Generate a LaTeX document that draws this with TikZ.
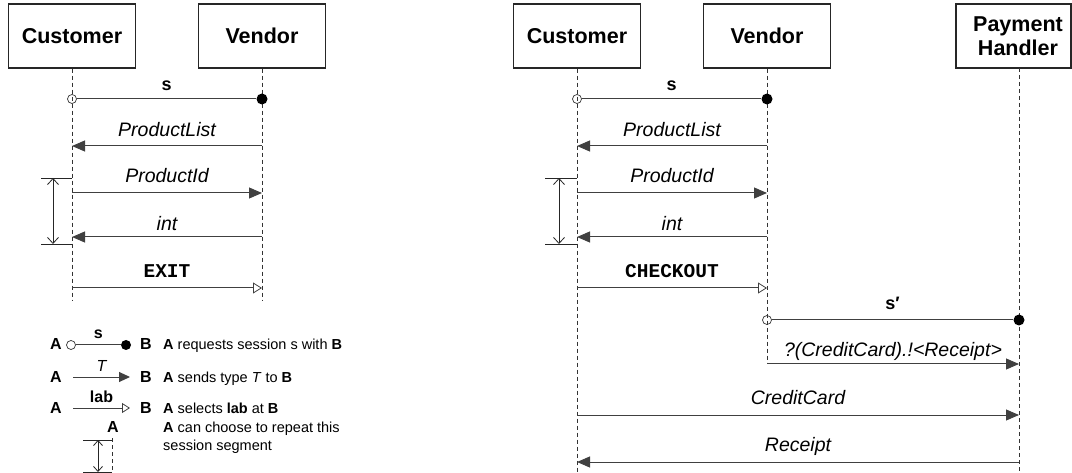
\documentclass[tikz,border=0pt]{standalone}
\usepackage{fontspec}
\setmainfont{Liberation Sans}
\setmonofont{Liberation Mono}
\usetikzlibrary{arrows.meta}
\tikzset{
 actor/.style={draw=black!85, line width=1.2pt, minimum width=127pt, minimum height=64pt, font=\fontsize{21.5}{24}\selectfont\bfseries, align=center, inner sep=0pt},
 life/.style={draw=black!80, line width=0.7pt, dash pattern=on 4pt off 3pt},
 msg/.style={draw=black!75, line width=1pt},
 send/.style={msg, -{Triangle[length=13pt,width=11pt]}},
 sel/.style={msg, -{Triangle[open,length=9pt,width=11pt,line width=0.8pt]}},
 lsend/.style={msg, -{Triangle[length=11pt,width=10pt]}},
 lsel/.style={msg, -{Triangle[open,length=8pt,width=10pt,line width=0.8pt]}},
 odot/.style={circle, draw=black!80, line width=0.7pt, minimum size=9pt, inner sep=0pt},
 fdot/.style={circle, fill=black, minimum size=11pt, inner sep=0pt},
 lodot/.style={circle, draw=black!80, line width=0.7pt, minimum size=9pt, inner sep=0pt},
 lfdot/.style={circle, fill=black, minimum size=10pt, inner sep=0pt},
 lbl/.style={anchor=base, inner sep=0pt, font=\fontsize{19.5}{22}\selectfont\itshape},
 sesslbl/.style={anchor=base, inner sep=0pt, font=\fontsize{18}{22}\selectfont\bfseries},
 cmdlbl/.style={anchor=base, inner sep=0pt, font=\fontsize{19.5}{22}\selectfont\ttfamily\bfseries},
 tick/.style={draw=black!85, line width=0.8pt},
 rep/.style={draw=black!85, line width=0.8pt, {Straight Barb[length=6pt,width=11pt]}-{Straight Barb[length=6pt,width=11pt]}},
 lrep/.style={draw=black!85, line width=0.8pt, {Straight Barb[length=5pt,width=9pt]}-{Straight Barb[length=5pt,width=9pt]}},
 leg/.style={anchor=base west, inner sep=0pt, font=\fontsize{14.5}{17}\selectfont},
 legb/.style={anchor=base, inner sep=0pt, font=\fontsize{16}{19}\selectfont\bfseries},
 legi/.style={anchor=base, inner sep=0pt, font=\fontsize{16}{19}\selectfont\itshape},
}
\begin{document}
\begin{tikzpicture}[x=1pt,y=-1pt]
\useasboundingbox (0,0) rectangle (1072,473);

% ================= LEFT DIAGRAM =================
\node[actor] (cust1) at (72,36) {Customer};
\node[actor] (vend1) at (262,36) {Vendor};
\coordinate (cust1end) at (72,300);
\coordinate (vend1end) at (262,300);
\draw[life] (cust1.south) -- (cust1end);
\draw[life] (vend1.south) -- (vend1end);

% session s
\node[odot] (l-sc) at (72,99) {};
\node[fdot] (l-sv) at (262,99) {};
\draw[msg] (l-sc) -- (l-sv) node[midway, sesslbl, yshift=8pt] {s};
% ProductList
\coordinate (l-plv) at (262,146); \coordinate (l-plc) at (72,146);
\draw[send] (l-plv) -- (l-plc) node[midway, lbl, yshift=9pt] {ProductList};
% ProductId
\coordinate (l-pic) at (72,193); \coordinate (l-piv) at (262,193);
\draw[send] (l-pic) -- (l-piv) node[midway, lbl, yshift=10pt] {ProductId};
% int
\coordinate (l-iv) at (262,237); \coordinate (l-ic) at (72,237);
\draw[send] (l-iv) -- (l-ic) node[midway, lbl, yshift=6pt] {int};
% EXIT
\coordinate (l-ec) at (72,288); \coordinate (l-ev) at (262,288);
\draw[sel] (l-ec) -- (l-ev) node[midway, cmdlbl, yshift=10pt] {EXIT};
% repeat bracket
\coordinate (l-t1a) at (41,178); \coordinate (l-t1b) at (72,178);
\coordinate (l-t2a) at (41,244); \coordinate (l-t2b) at (72,244);
\coordinate (l-r1) at (53,178); \coordinate (l-r2) at (53,244);
\draw[tick] (l-t1a) -- (l-t1b);
\draw[tick] (l-t2a) -- (l-t2b);
\draw[rep] (l-r1) -- (l-r2);

% ================= LEGEND =================
\node[legb] (g1a) at (56,350) {A};
\node[lodot] (g1o) at (71,345) {};
\node[lfdot] (g1f) at (126,345) {};
\node[legb] (g1b) at (146,350) {B};
\draw[msg] (g1o) -- (g1f) node[midway, legb, yshift=6pt] {s};
\node[leg] (g1t) at (163,350) {\textbf{A} requests session s with \textbf{B}};

\node[legb] (g2a) at (56,382) {A};
\coordinate (g2s) at (73,377); \coordinate (g2e) at (130,377);
\node[legb] (g2b) at (146,382) {B};
\draw[lsend] (g2s) -- (g2e) node[midway, legi, yshift=6pt] {T};
\node[leg] (g2t) at (163,382) {\textbf{A} sends type \textit{T} to \textbf{B}};

\node[legb] (g3a) at (56,413) {A};
\coordinate (g3s) at (73,408); \coordinate (g3e) at (130,408);
\node[legb] (g3b) at (146,413) {B};
\draw[lsel] (g3s) -- (g3e) node[midway, legb, yshift=6pt] {lab};
\node[leg] (g3t) at (163,413) {\textbf{A} selects \textbf{lab} at \textbf{B}};

\node[legb] (g4a) at (113,432) {A};
\coordinate (g4l1) at (112,438); \coordinate (g4l2) at (112,473);
\draw[life] (g4l1) -- (g4l2);
\coordinate (g4t1a) at (83,440); \coordinate (g4t1b) at (112,440);
\coordinate (g4t2a) at (83,472); \coordinate (g4t2b) at (112,472);
\coordinate (g4r1) at (98,440); \coordinate (g4r2) at (98,472);
\draw[tick] (g4t1a) -- (g4t1b);
\draw[tick] (g4t2a) -- (g4t2b);
\draw[lrep] (g4r1) -- (g4r2);
\node[leg] (g4t) at (163,432) {\textbf{A} can choose to repeat this};
\node[leg] (g4u) at (163,450) {session segment};

% ================= RIGHT DIAGRAM =================
\node[actor] (cust2) at (577,36) {Customer};
\node[actor] (vend2) at (767,36) {Vendor};
\node[draw=black!85, line width=1.2pt, minimum width=115pt, minimum height=64pt, inner sep=0pt] (pay) at (1013.5,36) {};
\node[font=\fontsize{21.5}{24}\selectfont\bfseries, align=center, inner sep=0pt] (paylbl) at (1018,36) {Payment\\Handler};
\coordinate (cust2end) at (577,473);
\coordinate (vend2end) at (767,364);
\coordinate (paytop) at (1019,68);
\coordinate (payend) at (1019,473);
\draw[life] (cust2.south) -- (cust2end);
\draw[life] (vend2.south) -- (vend2end);
\draw[life] (paytop) -- (payend);

% session s
\node[odot] (r-sc) at (577,99) {};
\node[fdot] (r-sv) at (767,99) {};
\draw[msg] (r-sc) -- (r-sv) node[midway, sesslbl, yshift=8pt] {s};
% ProductList
\coordinate (r-plv) at (767,146); \coordinate (r-plc) at (577,146);
\draw[send] (r-plv) -- (r-plc) node[midway, lbl, yshift=9pt] {ProductList};
% ProductId
\coordinate (r-pic) at (577,193); \coordinate (r-piv) at (767,193);
\draw[send] (r-pic) -- (r-piv) node[midway, lbl, yshift=10pt] {ProductId};
% int
\coordinate (r-iv) at (767,237); \coordinate (r-ic) at (577,237);
\draw[send] (r-iv) -- (r-ic) node[midway, lbl, yshift=6pt] {int};
% CHECKOUT
\coordinate (r-ec) at (577,288); \coordinate (r-ev) at (767,288);
\draw[sel] (r-ec) -- (r-ev) node[midway, cmdlbl, yshift=10pt] {CHECKOUT};
% repeat bracket
\coordinate (r-t1a) at (545,178); \coordinate (r-t1b) at (577,178);
\coordinate (r-t2a) at (545,244); \coordinate (r-t2b) at (577,244);
\coordinate (r-r1) at (559,178); \coordinate (r-r2) at (559,244);
\draw[tick] (r-t1a) -- (r-t1b);
\draw[tick] (r-t2a) -- (r-t2b);
\draw[rep] (r-r1) -- (r-r2);
% session s'
\node[odot] (r-s2v) at (767,320) {};
\node[fdot] (r-s2p) at (1019,320) {};
\draw[msg] (r-s2v) -- (r-s2p) node[midway, sesslbl, yshift=10pt] {s′};
% ?(CreditCard).!<Receipt>
\coordinate (r-dv) at (767,364); \coordinate (r-dp) at (1019,364);
\draw[send] (r-dv) -- (r-dp) node[midway, lbl, yshift=8pt] {?(CreditCard).!<Receipt>};
% CreditCard
\coordinate (r-cc) at (577,415); \coordinate (r-cp) at (1019,415);
\draw[send] (r-cc) -- (r-cp) node[midway, lbl, yshift=11pt] {CreditCard};
% Receipt
\coordinate (r-rp) at (1019,462); \coordinate (r-rc) at (577,462);
\draw[send] (r-rp) -- (r-rc) node[midway, lbl, yshift=11pt] {Receipt};
\end{tikzpicture}
\end{document}
